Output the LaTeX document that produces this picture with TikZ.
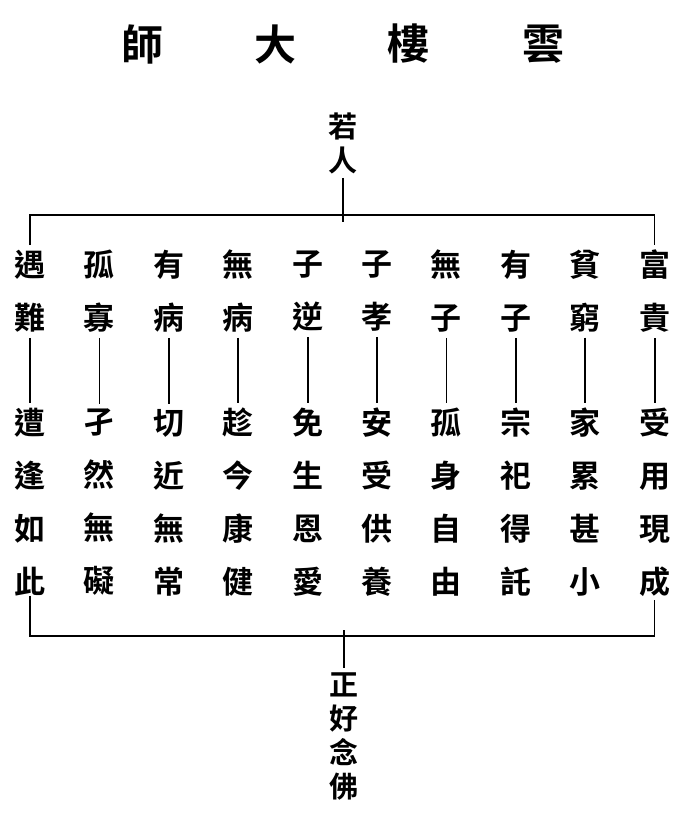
\documentclass[tikz,border=0pt]{standalone}
\usepackage{fontspec}
\newfontfamily\cjk{Noto Sans CJK TC Bold}
\begin{document}
\begin{tikzpicture}[x=1pt,y=-1pt,
  titlechar/.style={font=\cjk\fontsize{42}{42}\selectfont, inner sep=0pt},
  colhead/.style={font=\cjk\fontsize{31}{53}\selectfont, align=center, inner xsep=0pt, inner ysep=5pt},
  vtext/.style={font=\cjk\fontsize{29}{34}\selectfont, align=center, inner xsep=0pt, inner ysep=4pt},
  link/.style={line width=1.8pt},
  brace/.style={line width=1.2pt}]
\useasboundingbox[fill=white] (0,0) rectangle (678,819);
% title
\node[titlechar] (s1) at (142,44) {師};
\node[titlechar] (s2) at (275,44) {大};
\node[titlechar] (s3) at (408,44) {樓};
\node[titlechar] (s4) at (543,44) {雲};
% top
\node[vtext] (ruo) at (343,143) {若\\人};
\coordinate (hubT) at (343,215);
% columns
\foreach \i/\top/\bot in {1/遇\\難/遭\\逢\\如\\此,
                          2/孤\\寡/孑\\然\\無\\礙,
                          3/有\\病/切\\近\\無\\常,
                          4/無\\病/趁\\今\\康\\健,
                          5/子\\逆/免\\生\\恩\\愛,
                          6/子\\孝/安\\受\\供\\養,
                          7/無\\子/孤\\身\\自\\由,
                          8/有\\子/宗\\祀\\得\\託,
                          9/貧\\窮/家\\累\\甚\\小,
                          10/富\\貴/受\\用\\現\\成}{
  \pgfmathsetmacro{\xx}{30+69.4*(\i-1)}
  \node[colhead] (t\i) at (\xx,291.5) {\top};
  \node[colhead] (b\i) at (\xx,502.5) {\bot};
  \draw[link] (t\i.south) -- (b\i.north);
}
\coordinate (hubB) at (344,636);
\node[vtext] (zheng) at (344,736) {正\\好\\念\\佛};
% connectors
\draw[link] (ruo.south) -- ([yshift=-7pt]hubT);
\draw[brace] (t1.north) |- (hubT) -| (t10.north);
\draw[brace] ([yshift=6pt]b1.south) |- (hubB) -| ([yshift=2pt]b10.south);
\draw[link] ([yshift=6pt]hubB) -- (zheng.north);
\end{tikzpicture}
\end{document}
